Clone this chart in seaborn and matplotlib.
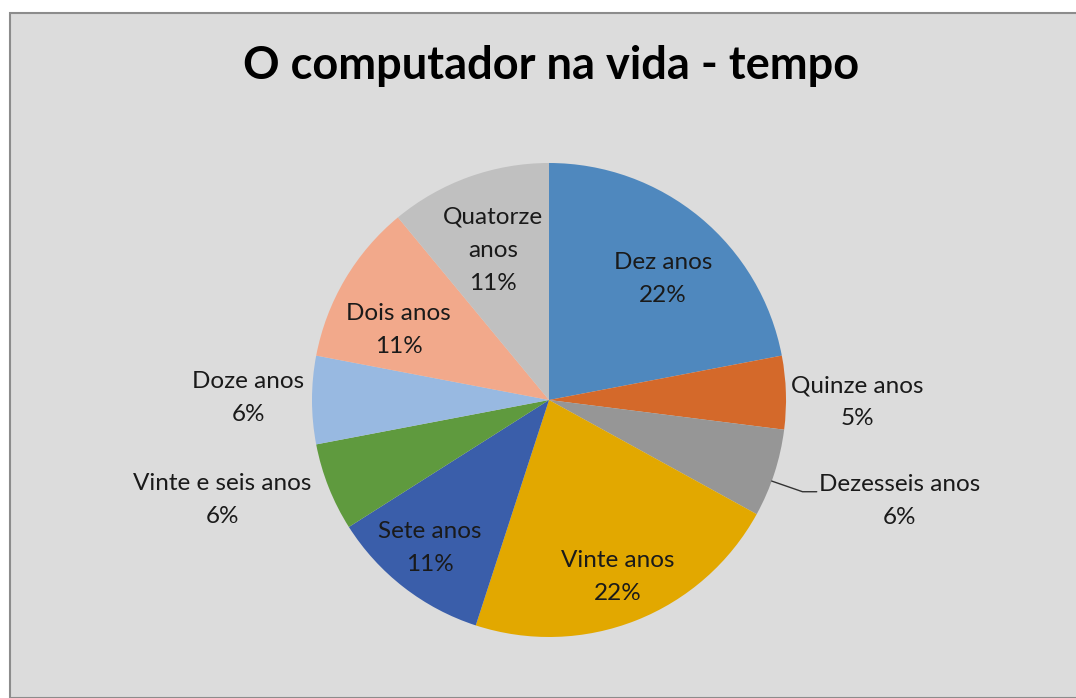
import numpy as np
import matplotlib
matplotlib.use("Agg")
import matplotlib.pyplot as plt
from matplotlib.patches import Rectangle
import seaborn as sns

# data (percent)
categories = ["Dez anos", "Quinze anos", "Dezesseis anos", "Vinte anos", "Sete anos",
              "Vinte e seis anos", "Doze anos", "Dois anos", "Quatorze anos"]
values = [22, 5, 6, 22, 11, 6, 6, 11, 11]
label_text = ["Dez anos", "Quinze anos", "Dezesseis anos", "Vinte anos", "Sete anos",
              "Vinte e seis anos", "Doze anos", "Dois anos", "Quatorze\nanos"]
colors = ["#4F88BE", "#D4692A", "#969696", "#E2A800", "#3A5EAA",
          "#5F9A3E", "#98B9E1", "#F2A98B", "#C0C0C0"]

# label placement (distance from centre, angle tweak in degrees)
label_dist = [0.70, 1.30, 1.54, 0.80, 0.80, 1.44, 1.27, 0.70, 0.675]
label_dang = [3.7, 2.2, -2.0, 0.5, 1.0, 4.6, 0.4, -5.6, -0.7]

sns.set_theme(style="white")
plt.rcParams['font.family'] = ['Lato', 'DejaVu Sans']

W, H = 1076, 698
fig = plt.figure(figsize=(W / 100, H / 100), dpi=100)
fig.patch.set_facecolor("white")
fig.patches.append(Rectangle((10 / W, 0), 1.1, (H - 12.5) / H, transform=fig.transFigure,
                             facecolor="#DCDCDC", edgecolor="#8C8C8C", lw=1.5, zorder=-5))

cx, cy, r = 549, 400, 237
ax = fig.add_axes([(cx - r) / W, (H - cy - r) / H, 2 * r / W, 2 * r / H])
ax.set_zorder(2)
ax.set_facecolor("none")
palette = sns.color_palette(colors)
wedges, _ = ax.pie(values, colors=palette, startangle=90, counterclock=False,
                   radius=1.0, wedgeprops=dict(linewidth=0))
ax.set_xlim(-1, 1)
ax.set_ylim(-1, 1)
ax.set_aspect("equal")
ax.axis("off")

total = sum(values)
cum = np.cumsum([0] + values)
for i, (lab, v) in enumerate(zip(label_text, values)):
    mid = (cum[i] + v / 2) / total * 360 + label_dang[i]  # clockwise from top
    a = np.deg2rad(mid)
    x, y = label_dist[i] * np.sin(a), label_dist[i] * np.cos(a)
    ax.text(x, y, f"{lab}\n{v / total * 100:.0f}%", ha="center", va="center",
            fontsize=17.5, color="#1A1A1A", linespacing=1.7, clip_on=False)
    if i == 2:
        # leader line for the small slice
        a0 = np.deg2rad((cum[i] + v / 2) / total * 360 + 2)
        x0, y0 = np.sin(a0), np.cos(a0)
        ax.plot([x0, x0 + 0.13, x0 + 0.19], [y0, y0 - 0.045, y0 - 0.045],
                color="#333333", lw=1, clip_on=False)

fig.text(551 / W, (H - 66) / H, "O computador na vida - tempo", ha="center", va="center",
         fontsize=32.5, fontweight="bold", color="black")

fig.savefig("out.png", dpi=100)
